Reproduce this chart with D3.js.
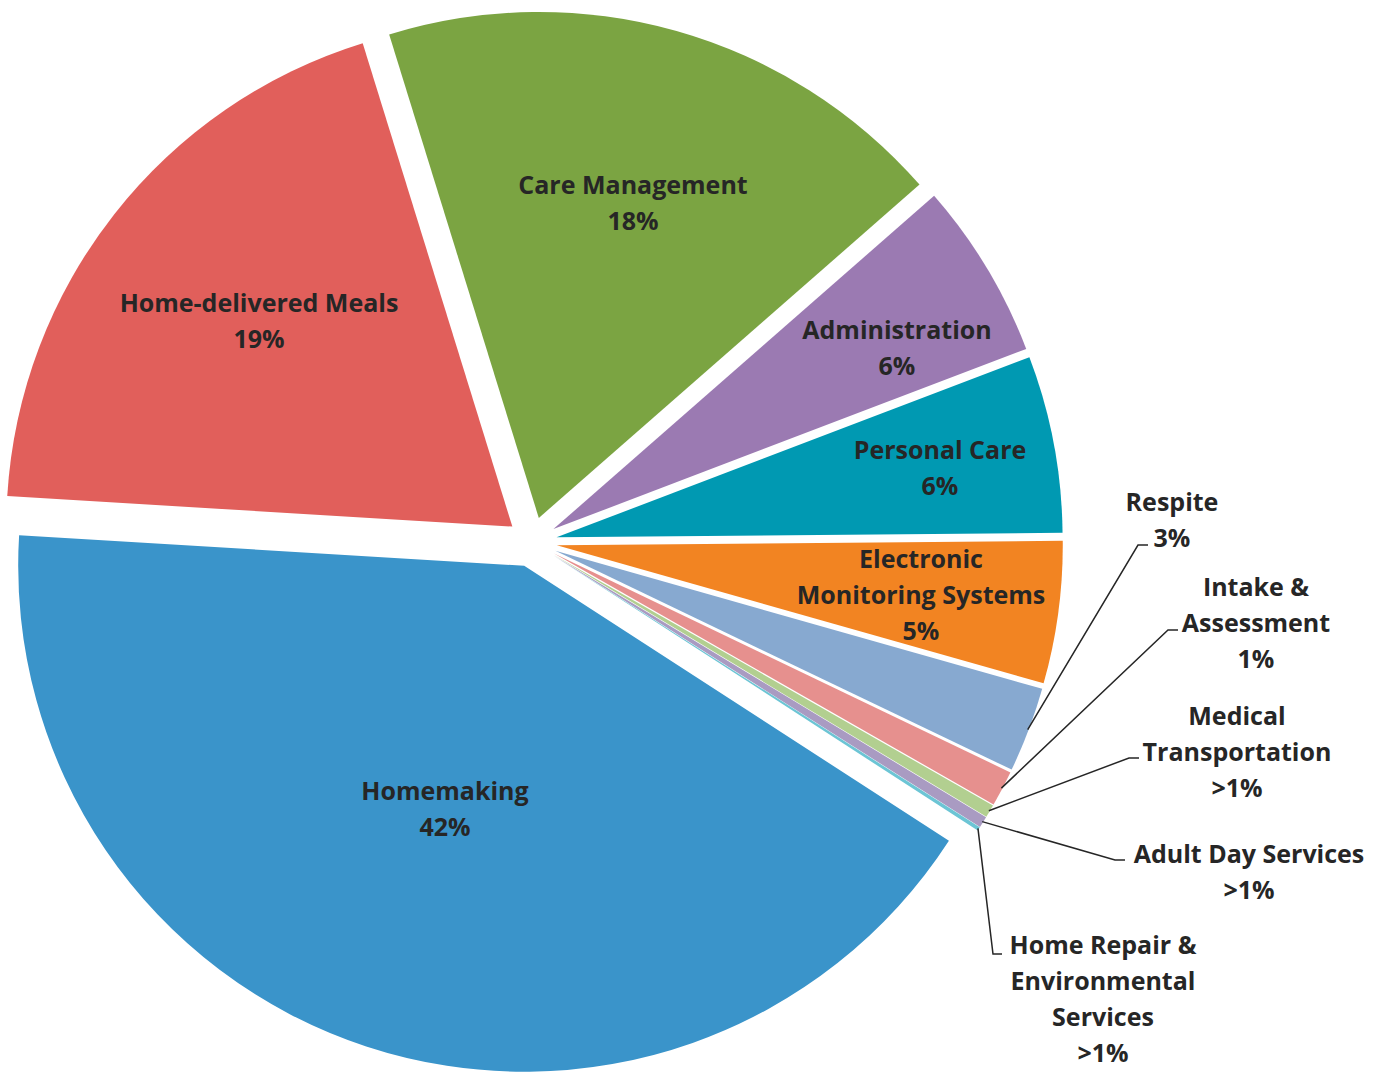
<!DOCTYPE html>
<html lang="en">
<head>
<meta charset="UTF-8">
<script src="https://d3js.org/d3.v7.min.js"></script>
<title>Services pie</title>
<style>
  html, body { margin: 0; padding: 0; background: #fff; }
  svg text { font-family: 'Open Sans', 'Noto Sans', sans-serif; font-weight: 700; fill: #262626; }
</style>
</head>
<body>
<div id="wrapper"></div>
<script>
// data, clockwise from Care Management
const categories = ["Care Management", "Administration", "Personal Care", "Electronic Monitoring Systems",
  "Respite", "Intake & Assessment", "Medical Transportation", "Adult Day Services",
  "Home Repair & Environmental Services", "Homemaking", "Home-delivered Meals"];
const shares = [18.33, 5.65, 5.65, 4.54, 2.72, 1.14, 0.41, 0.36, 0.12, 41.81, 19.26];
const pctLabels = ["18%", "6%", "6%", "5%", "3%", "1%", ">1%", ">1%", ">1%", "42%", "19%"];
// how the category names wrap in the labels
const nameLines = [["Care Management"], ["Administration"], ["Personal Care"], ["Electronic", "Monitoring Systems"],
  ["Respite"], ["Intake &", "Assessment"], ["Medical", "Transportation"], ["Adult Day Services"],
  ["Home Repair &", "Environmental", "Services"], ["Homemaking"], ["Home-delivered Meals"]];

const colors = ["#7ba442", "#9b7ab2", "#0099b2", "#f28422", "#87a9d0", "#e6908e",
  "#b2cf90", "#a99bc2", "#6cc5d5", "#3a94ca", "#e15f5b"];

// label layout: text centre x, first line centre y; elbow for leader lines (outside labels)
const labelLayout = [
  {x: 633, y: 185}, {x: 897, y: 330}, {x: 940, y: 450}, {x: 921, y: 559},
  {x: 1172, y: 502, elbow: [1138, 545], end: [1148, 545]},
  {x: 1256, y: 587, elbow: [1168, 630], end: [1178, 630]},
  {x: 1237, y: 716, elbow: [1129, 758], end: [1139, 758]},
  {x: 1249, y: 854, elbow: [1115, 860], end: [1125, 860]},
  {x: 1103, y: 945, elbow: [993, 954], end: [1002, 954]},
  {x: 445, y: 791}, {x: 259, y: 303}
];

const width = 1380, height = 1072;
const cx = 532, cy = 542, radius = 506, explode = 25;
const fontSize = 25, lineGap = 36;

const svg = d3.select("#wrapper").append("svg")
  .attr("width", width).attr("height", height);

const startAngle = -17.2 * Math.PI / 180;
const pie = d3.pie().sort(null).value(d => d)
  .startAngle(startAngle).endAngle(startAngle + 2 * Math.PI);
const arcs = pie(shares);
const arc = d3.arc().innerRadius(0).outerRadius(radius);

const chart = svg.append("g").attr("transform", `translate(${cx},${cy})`);

function offset(a) {
  const mid = (a.startAngle + a.endAngle) / 2;
  return [Math.sin(mid) * explode, -Math.cos(mid) * explode];
}

chart.selectAll("path.slice")
  .data(arcs)
  .join("path")
    .attr("class", "slice")
    .attr("d", arc)
    .attr("fill", (d, i) => colors[i])
    .attr("transform", d => `translate(${offset(d)})`);

// leader lines from the outer edge of small slices
arcs.forEach((a, i) => {
  const lay = labelLayout[i];
  if (!lay.elbow) return;
  const mid = (a.startAngle + a.endAngle) / 2;
  const o = offset(a);
  const sx = cx + o[0] + Math.sin(mid) * (radius - 1);
  const sy = cy + o[1] - Math.cos(mid) * (radius - 1);
  svg.append("path")
    .attr("d", d3.line()([[sx, sy], lay.elbow, lay.end]))
    .attr("fill", "none")
    .attr("stroke", "#262626")
    .attr("stroke-width", 1.5);
});

// labels
arcs.forEach((a, i) => {
  const lay = labelLayout[i];
  const lines = nameLines[i].concat([pctLabels[i]]);
  const t = svg.append("text")
    .attr("text-anchor", "middle")
    .style("font-size", fontSize + "px");
  lines.forEach((ln, k) => {
    t.append("tspan")
      .attr("x", lay.x)
      .attr("y", lay.y + k * lineGap + fontSize * 0.36)
      .text(ln);
  });
});
</script>
</body>
</html>
